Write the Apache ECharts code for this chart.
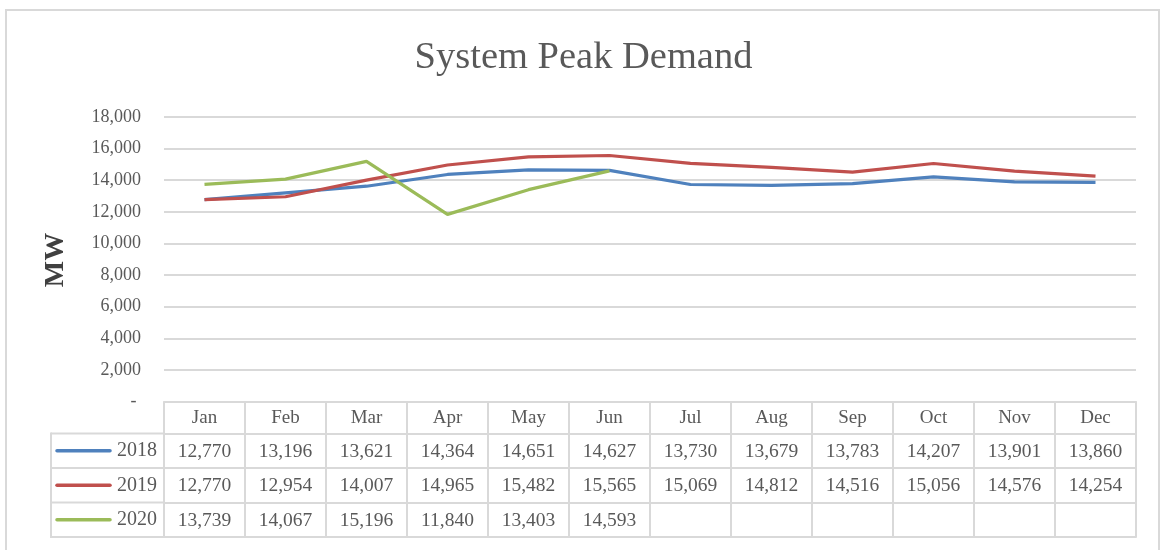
<!DOCTYPE html>
<html>
<head>
<meta charset="utf-8">
<script src="https://cdn.jsdelivr.net/npm/echarts@6/dist/echarts.min.js"></script>
<style>
html,body{margin:0;padding:0;background:#ffffff;}
#chart{width:1167px;height:550px;}
</style>
</head>
<body>
<div id="chart"></div>
<script>
// ---- data ----
const months = ['Jan','Feb','Mar','Apr','May','Jun','Jul','Aug','Sep','Oct','Nov','Dec'];
const years = ['2018','2019','2020'];
const values2018 = [12770,13196,13621,14364,14651,14627,13730,13679,13783,14207,13901,13860];
const values2019 = [12770,12954,14007,14965,15482,15565,15069,14812,14516,15056,14576,14254];
const values2020 = [13739,14067,15196,11840,13403,14593,null,null,null,null,null,null];
const yMin = 0, yMax = 18000, yStep = 2000;
const titleText = 'System Peak Demand';
const yName = 'MW';

// ---- styles / layout ----
const colors = ['#4F81BD','#C0504D','#9BBB59'];
const seriesValues = [values2018, values2019, values2020];
const textColor = '#595959';
const borderColor = '#d9d9d9';
const font = 'Liberation Serif';
const W = 1167, H = 550;
const gridLeft = 164, gridRightX = 1136, gridTop = 117, gridBottomY = 401.5;
const headerH = 32, rowH = 34.5;
const tableLeft = 51;

function fmt(n){ return n == null ? '' : String(n).replace(/\B(?=(\d{3})+(?!\d))/g, ','); }

const lineStyleBorder = {color: borderColor, width: 2};

const xAxes = [{
  type: 'category', data: months, position: 'bottom', gridIndex: 0,
  boundaryGap: true,
  axisLine: {show: true, lineStyle: lineStyleBorder},
  axisTick: {show: true, interval: 0, length: headerH, lineStyle: lineStyleBorder},
  axisLabel: {interval: 0, margin: 7, fontFamily: font, fontSize: 19, lineHeight: 20, color: textColor},
  splitLine: {show: false}
}];
seriesValues.forEach((vals, k) => {
  xAxes.push({
    type: 'category', data: months, position: 'bottom', gridIndex: 0,
    offset: headerH + k * rowH,
    boundaryGap: true,
    axisLine: {show: true, lineStyle: lineStyleBorder},
    axisTick: {show: true, interval: 0, length: rowH, lineStyle: lineStyleBorder},
    axisLabel: {interval: 0, margin: 8, fontFamily: font, fontSize: 19.5, lineHeight: 20, color: textColor,
      formatter: (v, i) => fmt(vals[i])},
    splitLine: {show: false}
  });
});
xAxes.push({
  type: 'category', data: months, position: 'bottom', gridIndex: 0,
  offset: headerH + 3 * rowH,
  axisLine: {show: true, lineStyle: lineStyleBorder},
  axisTick: {show: false}, axisLabel: {show: false}, splitLine: {show: false}
});

// table first column (legend column)
const graphics = [];
graphics.push({
  type: 'rect', silent: true, z: -10,
  shape: {x: 6, y: 10, width: 1153, height: 560},
  style: {fill: 'none', stroke: borderColor, lineWidth: 2}
});
const row0 = gridBottomY + headerH;
for (let k = 0; k <= 3; k++) {
  const y = row0 + k * rowH;
  graphics.push({type: 'line', silent: true, shape: {x1: tableLeft, y1: y, x2: gridLeft, y2: y}, style: {stroke: borderColor, lineWidth: 2}});
}
graphics.push({type: 'line', silent: true, shape: {x1: tableLeft, y1: row0 - 1, x2: tableLeft, y2: row0 + 3 * rowH + 1}, style: {stroke: borderColor, lineWidth: 2}});
years.forEach((yr, k) => {
  const cy = row0 + k * rowH + rowH / 2;
  graphics.push({type: 'line', silent: true, shape: {x1: tableLeft + 6, y1: cy, x2: tableLeft + 59, y2: cy},
    style: {stroke: colors[k], lineWidth: 3.5, lineCap: 'round'}});
  graphics.push({type: 'text', silent: true, x: gridLeft - 7, y: cy,
    style: {text: yr, fill: textColor, font: '20px "' + font + '"', textAlign: 'right', textVerticalAlign: 'middle', align: 'right', verticalAlign: 'middle'}});
});
graphics.push({type: 'text', silent: true, x: 56, y: 260, rotation: Math.PI / 2,
  style: {text: yName, fill: '#404040', font: 'bold 28px "' + font + '"', textAlign: 'center', textVerticalAlign: 'middle', align: 'center', verticalAlign: 'middle'}});

const chart = echarts.init(document.getElementById('chart'), null, {renderer: 'canvas'});
chart.setOption({
  animation: false,
  backgroundColor: '#ffffff',
  title: {
    text: titleText, left: 'center', top: 33,
    textStyle: {fontFamily: font, fontSize: 38.5, fontWeight: 'normal', color: textColor}
  },
  grid: {left: gridLeft, right: W - gridRightX, top: gridTop, bottom: H - gridBottomY, containLabel: false},
  xAxis: xAxes,
  yAxis: {
    type: 'value', min: yMin, max: yMax, interval: yStep,
    axisLine: {show: false}, axisTick: {show: false},
    splitLine: {show: true, lineStyle: lineStyleBorder},
    axisLabel: {margin: 23, fontFamily: font, fontSize: 18, color: textColor,
      formatter: v => v === 0 ? '-\u00a0' : fmt(v)}
  },
  series: years.map((yr, k) => ({
    name: yr, type: 'line', data: seriesValues[k], xAxisIndex: 0, yAxisIndex: 0,
    symbol: 'none', smooth: false, connectNulls: false,
    lineStyle: {color: colors[k], width: 3.2}, itemStyle: {color: colors[k]}, z: 3 + k
  })),
  graphic: graphics
});
</script>
</body>
</html>
